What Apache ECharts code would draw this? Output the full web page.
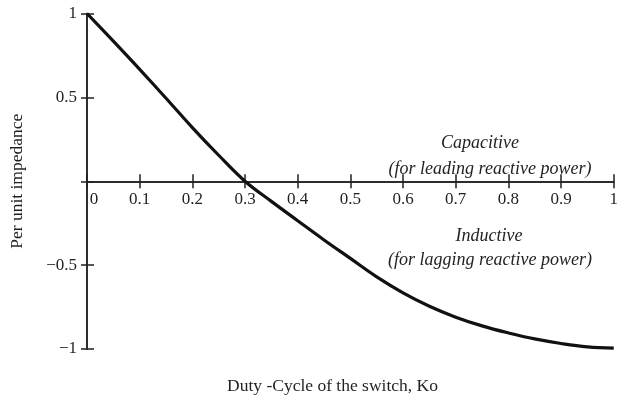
<!DOCTYPE html>
<html>
<head>
<meta charset="utf-8">
<script src="https://cdn.jsdelivr.net/npm/echarts@6/dist/echarts.min.js"></script>
<style>html,body{margin:0;padding:0;background:#fff;}#c{width:621px;height:403px;}</style>
</head>
<body>
<div id="c"></div>
<script>
const dutyCycle = [0, 0.05, 0.1, 0.15, 0.2, 0.25, 0.3, 0.35, 0.4, 0.45, 0.5, 0.55, 0.6, 0.65, 0.7, 0.75, 0.8, 0.85, 0.9, 0.95, 1.0];
const impedance = [1, 0.835, 0.667, 0.495, 0.32, 0.155, 0.0, -0.12, -0.235, -0.35, -0.46, -0.57, -0.665, -0.745, -0.81, -0.862, -0.904, -0.94, -0.967, -0.987, -0.995];
const xTitle = 'Duty -Cycle of the switch, Ko';
const yTitle = 'Per unit impedance';
const notes = ['Capacitive', '(for leading reactive power)', 'Inductive', '(for lagging reactive power)'];

const FONT = 'Liberation Serif';
const INK = '#231f20';
const GRID = {left: 86.5, right: 4.5, top: 13.5, bottom: 54};
const plotH = 403 - GRID.top - GRID.bottom;
const zeroOffset = -plotH / 2; // x axis drawn through y = 0 (half way between -1 and 1)
const chart = echarts.init(document.getElementById('c'), null, {renderer: 'canvas'});
const fmt = v => (v < 0 ? '\u2212' + String(-v) : String(v));
const baseX = {
  type: 'value', min: 0, max: 1, interval: 0.1, position: 'bottom', offset: zeroOffset,
  axisLine: {onZero: false, lineStyle: {color: INK, width: 1.5}},
  splitLine: {show: false}
};
const baseY = {
  type: 'value', min: -1, max: 1, interval: 0.5, position: 'left',
  axisLine: {onZero: false, lineStyle: {color: INK, width: 1.5}},
  splitLine: {show: false}
};
chart.setOption({
  animation: false,
  backgroundColor: '#fff',
  grid: GRID,
  xAxis: [
    Object.assign({}, baseX, {
      axisTick: {show: true, length: 7, lineStyle: {color: INK, width: 1.5}},
      axisLabel: {
        margin: 10, color: INK, fontFamily: FONT, fontSize: 17,
        formatter: v => (v === 0 ? '{z|0}' : String(Math.round(v * 10) / 10)),
        rich: {z: {padding: [0, 0, 0, 14], fontFamily: FONT, fontSize: 17, color: INK}}
      }
    }),
    Object.assign({}, baseX, {
      axisTick: {show: true, inside: true, length: 7, lineStyle: {color: INK, width: 1.5}},
      axisLabel: {show: false}
    })
  ],
  yAxis: [
    Object.assign({}, baseY, {
      name: yTitle, nameLocation: 'middle', nameGap: 61, nameRotate: 90,
      nameTextStyle: {fontFamily: FONT, fontSize: 17.5, color: INK},
      axisTick: {show: true, length: 6, lineStyle: {color: INK, width: 1.5}},
      axisLabel: {
        margin: 10, color: INK, fontFamily: FONT, fontSize: 17,
        formatter: v => (v === 0 ? '' : fmt(v))
      }
    }),
    Object.assign({}, baseY, {
      axisTick: {show: true, inside: true, length: 7, lineStyle: {color: INK, width: 1.5}},
      axisLabel: {show: false}
    })
  ],
  graphic: [
    {type: 'text', left: 227, top: 377, style: {text: xTitle, fontFamily: FONT, fontSize: 17.5, fill: INK}},
    {type: 'text', x: 480, y: 143, style: {text: notes[0], fontFamily: FONT, fontStyle: 'italic', fontSize: 18, fill: INK, align: 'center', verticalAlign: 'middle'}},
    {type: 'text', x: 490, y: 169, style: {text: notes[1], fontFamily: FONT, fontStyle: 'italic', fontSize: 18, fill: INK, align: 'center', verticalAlign: 'middle'}},
    {type: 'text', x: 489, y: 236, style: {text: notes[2], fontFamily: FONT, fontStyle: 'italic', fontSize: 18, fill: INK, align: 'center', verticalAlign: 'middle'}},
    {type: 'text', x: 490, y: 260, style: {text: notes[3], fontFamily: FONT, fontStyle: 'italic', fontSize: 18, fill: INK, align: 'center', verticalAlign: 'middle'}}
  ],
  series: [{
    type: 'line', xAxisIndex: 0, yAxisIndex: 0,
    data: dutyCycle.map((x, i) => [x, impedance[i]]),
    smooth: 0.4, showSymbol: false, clip: false,
    lineStyle: {color: '#111', width: 3.2}
  }]
});
</script>
</body>
</html>
